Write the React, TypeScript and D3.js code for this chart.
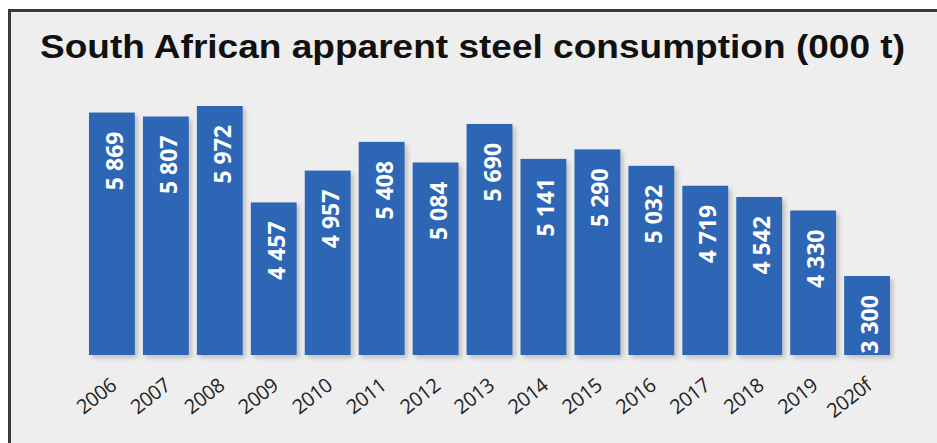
import React from "react";
import * as d3 from "d3";

const categories = ["2006","2007","2008","2009","2010","2011","2012","2013","2014","2015","2016","2017","2018","2019","2020f"];
const values = [5869,5807,5972,4457,4957,5408,5084,5690,5141,5290,5032,4719,4542,4330,3300];
const valueLabels = ["5 869","5 807","5 972","4 457","4 957","5 408","5 084","5 690","5 141","5 290","5 032","4 719","4 542","4 330","3 300"];
const title = "South African apparent steel consumption (000 t)";

const W = 937, H = 443;

export default function App() {
  const x = d3.scaleBand<string>().domain(categories).range([89, 890]).paddingInner(0.15).paddingOuter(0);
  const y = d3.scaleLinear().domain([2060, 5972]).range([355, 106]);
  const data = categories.map((c, i) => ({ c, v: values[i], label: valueLabels[i] }));
  return (
    <svg width={W} height={H} style={{ position: "absolute", left: 0, top: 0 }}>
      <defs>
        <filter id="sh" x="-20%" y="-20%" width="150%" height="150%">
          <feDropShadow dx="3" dy="3" stdDeviation="2" floodColor="#555" floodOpacity="0.3" />
        </filter>
      </defs>
      <rect x={0} y={0} width={W} height={H} fill="#ffffff" />
      <rect x={9} y={10} width={W} height={H} fill="#eeeeee" />
      <line x1={9.5} y1={9} x2={9.5} y2={H} stroke="#3a3a3a" strokeWidth={3} />
      <line x1={8} y1={10.5} x2={W} y2={10.5} stroke="#3a3a3a" strokeWidth={3} />
      <text x={40} y={58} fontFamily="Liberation Sans, Arial, sans-serif" fontWeight="bold" fontSize={34}
        fill="#111" textLength={865} lengthAdjust="spacingAndGlyphs">{title}</text>
      {data.map((d) => {
        const bx = x(d.c)!;
        const bw = x.bandwidth();
        const top = y(d.v);
        const cx = bx + bw / 2;
        return (
          <g key={d.c}>
            <rect x={bx} y={top} width={bw} height={y(2060) - top} fill="#2d66b6" filter="url(#sh)" />
            <text transform={`translate(${cx + 11},${top + 19}) rotate(-90)`} textAnchor="end"
              fontFamily="Open Sans, sans-serif" fontWeight={700} fontSize={23} fill="#ffffff">{d.label}</text>
            <text transform={`translate(${cx + 6},${388}) rotate(-38)`} textAnchor="end"
              fontFamily="Open Sans, sans-serif" fontSize={20} letterSpacing={-0.5} fill="#222">{d.c}</text>
          </g>
        );
      })}
    </svg>
  );
}
